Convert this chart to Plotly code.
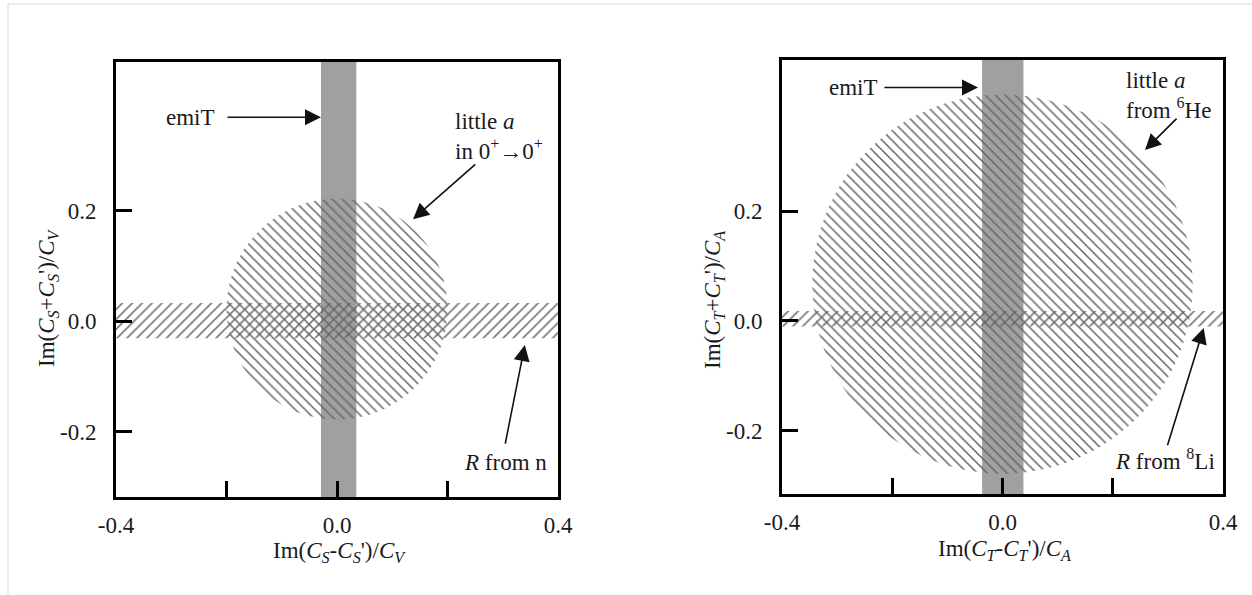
import numpy as np
import plotly.graph_objects as go

W, H = 1252, 595

# ---------------- data ----------------
x_range = [-0.4, 0.4]
left_y_range = [-0.318, 0.469]
right_y_range = [-0.315, 0.475]

# emiT limits (vertical grey bands, x-bounds)
left_time_band = [-0.029, 0.035]
right_time_band = [-0.037, 0.038]

# R limits (horizontal hatched bands, y-bounds)
left_R_band = [-0.031, 0.033]
right_R_band = [-0.010, 0.018]

# little-a limits (hatched discs)
left_circle_center = [0.0, 0.022]
left_circle_radius = 0.200
right_circle_center = [0.0, 0.067]
right_circle_radius = 0.345

x_tickvals = [-0.4, -0.2, 0.0, 0.2, 0.4]
x_ticktext = ["-0.4", "", "0.0", "", "0.4"]
y_tickvals = [-0.2, 0.0, 0.2]
y_ticktext = ["-0.2", "0.0", "0.2"]

FONT = "Liberation Serif"
TXT = "#1a1a1a"
HATCH = "#666666"
BAND = "#a0a0a0"
FS = 23

fig = go.Figure()


def add_panel(xa, ya, yrng, tband, rband, cc, cr):
    # grey vertical band
    fig.add_trace(go.Scatter(
        x=[tband[0], tband[1], tband[1], tband[0], tband[0]],
        y=[yrng[0], yrng[0], yrng[1], yrng[1], yrng[0]],
        mode="lines", line=dict(width=0), fill="toself", fillcolor=BAND,
        xaxis=xa, yaxis=ya, showlegend=False, hoverinfo="skip"))
    # hatched disc
    t = np.linspace(0, 2 * np.pi, 240)
    fig.add_trace(go.Scatter(
        x=cc[0] + cr * np.cos(t), y=cc[1] + cr * np.sin(t),
        mode="lines", line=dict(width=0), fill="toself",
        fillcolor="rgba(0,0,0,0)",
        fillpattern=dict(shape="\\", size=7, solidity=0.22, fgcolor=HATCH,
                         bgcolor="rgba(0,0,0,0)", fillmode="replace"),
        xaxis=xa, yaxis=ya, showlegend=False, hoverinfo="skip"))
    # hatched horizontal band
    fig.add_trace(go.Scatter(
        x=[x_range[0], x_range[1], x_range[1], x_range[0], x_range[0]],
        y=[rband[0], rband[0], rband[1], rband[1], rband[0]],
        mode="lines", line=dict(width=0), fill="toself",
        fillcolor="rgba(0,0,0,0)",
        fillpattern=dict(shape="/", size=7, solidity=0.22, fgcolor=HATCH,
                         bgcolor="rgba(0,0,0,0)", fillmode="replace"),
        xaxis=xa, yaxis=ya, showlegend=False, hoverinfo="skip"))


add_panel("x", "y", left_y_range, left_time_band, left_R_band,
          left_circle_center, left_circle_radius)
add_panel("x2", "y2", right_y_range, right_time_band, right_R_band,
          right_circle_center, right_circle_radius)

axis_common = dict(showline=True, linewidth=3, linecolor="black", mirror=True,
                   ticks="inside", ticklen=16, tickwidth=3, tickcolor="black",
                   showgrid=False, zeroline=False, fixedrange=True, automargin=False,
                   tickfont=dict(family=FONT, size=FS, color=TXT))

fig.update_layout(
    template="none",
    width=W, height=H, autosize=False,
    margin=dict(l=0, r=0, t=0, b=0, pad=0),
    paper_bgcolor="white", plot_bgcolor="white",
    xaxis=dict(domain=[116 / W, 558 / W], range=x_range, tickvals=x_tickvals,
               ticktext=x_ticktext, anchor="y", ticklabelstandoff=5, **axis_common),
    yaxis=dict(domain=[1 - 497 / H, 1 - 62 / H], range=left_y_range,
               tickvals=y_tickvals, ticktext=y_ticktext, anchor="x",
               ticklabelstandoff=12, **axis_common),
    xaxis2=dict(domain=[782 / W, 1223 / W], range=x_range, tickvals=x_tickvals,
                ticktext=x_ticktext, anchor="y2", ticklabelstandoff=5, **axis_common),
    yaxis2=dict(domain=[1 - 494 / H, 1 - 60 / H], range=right_y_range,
                tickvals=y_tickvals, ticktext=y_ticktext, anchor="x2",
                ticklabelstandoff=12, **axis_common),
)

tfont = dict(family=FONT, size=FS, color=TXT)
ann = []

# axis titles
ann.append(dict(xref="paper", yref="paper", x=340 / W, y=1 - 552 / H,
                text="Im(<i>C<sub>S</sub></i>-<i>C<sub>S</sub></i>')/<i>C<sub>V</sub></i>",
                showarrow=False, font=tfont, xanchor="center", yanchor="middle"))
ann.append(dict(xref="paper", yref="paper", x=1004 / W, y=1 - 550 / H,
                text="Im(<i>C<sub>T</sub></i>-<i>C<sub>T</sub></i>')/<i>C<sub>A</sub></i>",
                showarrow=False, font=tfont, xanchor="center", yanchor="middle"))
ann.append(dict(xref="paper", yref="paper", x=48 / W, y=1 - 298 / H, textangle=-90,
                text="Im(<i>C<sub>S</sub></i>+<i>C<sub>S</sub></i>')/<i>C<sub>V</sub></i>",
                showarrow=False, font=tfont, xanchor="center", yanchor="middle"))
ann.append(dict(xref="paper", yref="paper", x=714 / W, y=1 - 300 / H, textangle=-90,
                text="Im(<i>C<sub>T</sub></i>+<i>C<sub>T</sub></i>')/<i>C<sub>A</sub></i>",
                showarrow=False, font=tfont, xanchor="center", yanchor="middle"))

# panel labels (text)
labels = [
    ("x", "y", -0.266, 0.369, "emiT", "center"),
    ("x", "y", 0.21, 0.335, "little <i>a</i><br>in 0<sup>+</sup>→0<sup>+</sup>", "left"),
    ("x", "y", 0.305, -0.255, "<i>R</i> from n", "center"),
    ("x2", "y2", -0.271, 0.425, "emiT", "center"),
    ("x2", "y2", 0.2205, 0.41, "little <i>a</i><br>from <sup>6</sup>He", "left"),
    ("x2", "y2", 0.2945, -0.2527, "<i>R</i> from <sup>8</sup>Li", "center"),
]
for xr, yr, x, y, t, xa in labels:
    ann.append(dict(xref=xr, yref=yr, x=x, y=y, text=t, showarrow=False,
                    font=tfont, xanchor=xa, yanchor="middle", align="left"))

# arrows: (axis, head x, head y, tail x, tail y)
arrows = [
    ("x", "y", -0.029, 0.369, -0.201, 0.369),
    ("x", "y", 0.1376, 0.1846, 0.253, 0.286),
    ("x", "y", 0.340, -0.043, 0.304, -0.224),
    ("x2", "y2", -0.0445, 0.425, -0.217, 0.425),
    ("x2", "y2", 0.2586, 0.311, 0.3185, 0.371),
    ("x2", "y2", 0.365, -0.0127, 0.2985, -0.229),
]
for xr, yr, hx, hy, tx, ty in arrows:
    ann.append(dict(xref=xr, yref=yr, x=hx, y=hy, axref=xr, ayref=yr, ax=tx, ay=ty,
                    text="", showarrow=True, arrowhead=2, arrowsize=2.0,
                    arrowwidth=1.6, arrowcolor="#111111", standoff=0, startstandoff=0))

fig.update_layout(annotations=ann)

# faint outer frame (top and left edges)
fig.update_layout(shapes=[
    dict(type="line", xref="paper", yref="paper", x0=8 / W, x1=1, y0=1 - 4 / H, y1=1 - 4 / H,
         line=dict(color="#d9d9d9", width=1)),
    dict(type="line", xref="paper", yref="paper", x0=8 / W, x1=8 / W, y0=0, y1=1 - 4 / H,
         line=dict(color="#d9d9d9", width=1)),
])

fig.write_html("out.html")
